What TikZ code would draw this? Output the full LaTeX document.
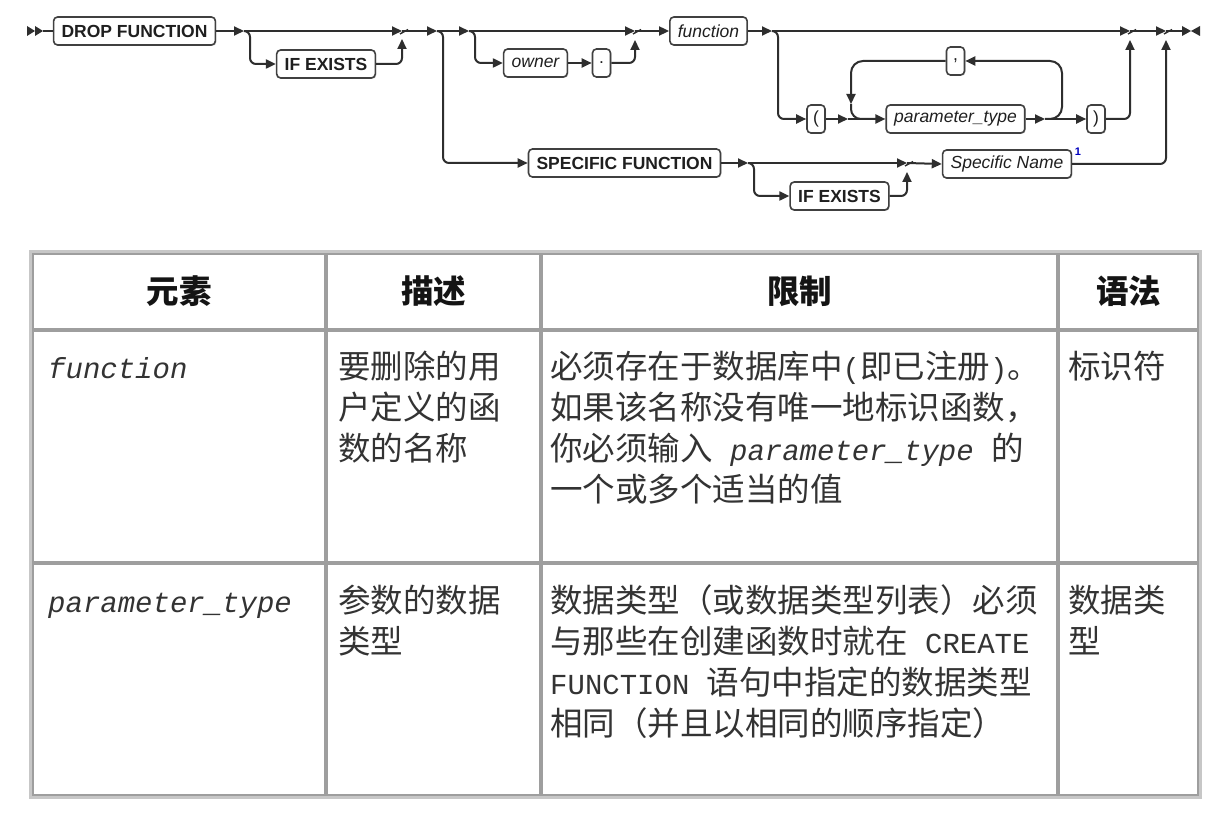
\documentclass[tikz,border=0pt]{standalone}
\usepackage{fontspec}
\setmainfont{Liberation Sans}
\newfontfamily\cjkfont{Noto Sans CJK SC}
\newfontfamily\monofont{Liberation Mono}
\usetikzlibrary{arrows.meta,shadows,calc}
\newcommand\bodyfont{\cjkfont\fontsize{32.5}{40}\selectfont}
\newcommand\headfont{\cjkfont\bfseries\fontsize{32.5}{40}\selectfont}
\newcommand\monoI{\monofont\itshape\fontsize{29}{40}\selectfont}
\newcommand\monoR{\monofont\fontsize{29}{40}\selectfont}
\newcommand\mergetick[1]{\draw[rr,line width=1.4pt] ($(#1)+(-2,3)$) -- ($(#1)+(6,-1.5)$);}
\tikzset{
  rr/.style={draw=black!82, line width=2pt},
  tipr/.style={-{Triangle[length=10pt,width=9pt]}},
  box/.style={draw=black!75, line width=1.6pt, rounded corners=4pt, fill=white, minimum height=28pt, inner xsep=8pt, inner ysep=0pt, text=black!88, drop shadow={shadow xshift=1pt, shadow yshift=-1pt, opacity=0.3}},
  kw/.style={box, font=\bfseries\fontsize{17.5}{20}\selectfont},
  var/.style={box, font=\itshape\fontsize{17.5}{20}\selectfont},
  sym/.style={box, font=\fontsize{17.5}{20}\selectfont, minimum width=18pt, inner xsep=2pt},
  cell/.style={draw=black!38, line width=1.6pt},
  txt/.style={anchor=base west, inner sep=0pt, text=black!80, font=\bodyfont},
  hd/.style={anchor=base, inner sep=0pt, text=black!92, font=\headfont},
}
\begin{document}
\begin{tikzpicture}[x=1pt,y=-1pt]
\useasboundingbox (0,0) rectangle (1226,818);
\fill[white] (0,0) rectangle (1226,818);

% ---------------- syntax diagram ----------------
\node[kw] (drop) at (134.5,31) {DROP FUNCTION};
\fill[black!82] (27,26) -- (35,31) -- (27,36) -- cycle;
\fill[black!82] (35,26) -- (43,31) -- (35,36) -- cycle;
\coordinate (st) at (43,31);
\draw[rr] (st) -- (drop.west);

\coordinate (j1) at (244,31);
\draw[rr,tipr] (drop.east) -- (j1);
\coordinate (m1) at (402,31); \coordinate (m1u) at (402,39);
\draw[rr,tipr] (j1) -- (m1);
\node[kw] (ife1) at (326,64) {IF EXISTS};
\draw[rr,tipr,rounded corners=6pt] (j1) -- ++(6,0) |- (ife1.west);
\draw[rr,tipr,rounded corners=6pt] (ife1.east) -| (m1u);
\mergetick{m1}

\coordinate (j2) at (437,31);
\draw[rr,tipr] (m1) -- (j2);
\node[kw] (spec) at (624.5,163) {SPECIFIC FUNCTION};
\draw[rr,tipr,rounded corners=6pt] (j2) -- ++(6,0) |- (spec.west);
\coordinate (j3) at (469,31);
\draw[rr,tipr] (j2) -- (j3);
\node[var] (own) at (535.5,63) {owner};
\draw[rr,tipr,rounded corners=6pt] (j3) -- ++(6,0) |- (own.west);
\node[sym] (dot) at (601.5,63) {.};
\draw[rr,tipr] (own.east) -- (dot.west);
\coordinate (m2) at (635,31); \coordinate (m2u) at (635,40);
\draw[rr,tipr,rounded corners=6pt] (dot.east) -| (m2u);
\draw[rr,tipr] (j3) -- (m2);
\mergetick{m2}

\node[var] (fn) at (708.5,31) {function};
\draw[rr,tipr] (m2) -- (fn.west);
\coordinate (j4) at (772,31);
\draw[rr,tipr] (fn.east) -- (j4);
\coordinate (m3) at (1130,31); \coordinate (m3u) at (1130,40);
\draw[rr,tipr] (j4) -- (m3);
\node[sym] (lp) at (816,119) {(};
\draw[rr,tipr,rounded corners=6pt] (j4) -- ++(6,0) |- (lp.west);
\coordinate (j5) at (848,119);
\draw[rr,tipr] (lp.east) -- (j5);
\node[var] (pt) at (955.5,119) {parameter\_type};
\draw[rr,tipr] (j5) -- (pt.west);
\coordinate (j6) at (1045,119);
\draw[rr,tipr] (pt.east) -- (j6);
\node[sym] (rp) at (1096,119) {)};
\draw[rr,tipr] (j6) -- (rp.west);
\node[sym] (cm) at (955.5,61) {,};
\coordinate (lpr) at (1062,61);
\draw[rr,tipr,rounded corners=12pt] (j6) -| (lpr) -- (cm.east);
\coordinate (lpd) at (851,104);
\coordinate (lpj) at (876,119);
\draw[rr,tipr,rounded corners=12pt] (cm.west) -| (lpd);
\draw[rr,rounded corners=10pt] (lpd) |- (lpj);
\draw[rr,tipr,rounded corners=6pt] (rp.east) -| (m3u);
\mergetick{m3}

\coordinate (m4) at (1166,31); \coordinate (m4u) at (1166,40);
\draw[rr,tipr] (m3) -- (m4);
\mergetick{m4}
\coordinate (en) at (1182,31);
\draw[rr] (m4) -- (en);
\fill[black!82] (1182,26) -- (1191,31) -- (1182,36) -- cycle;
\fill[black!82] (1200,26) -- (1191,31) -- (1200,36) -- cycle;

\coordinate (j8) at (748,163);
\draw[rr,tipr] (spec.east) -- (j8);
\coordinate (m5) at (907,163); \coordinate (m5u) at (907,172);
\draw[rr,tipr] (j8) -- (m5);
\node[kw] (ife2) at (839.5,196) {IF EXISTS};
\draw[rr,tipr,rounded corners=6pt] (j8) -- ++(6,0) |- (ife2.west);
\draw[rr,tipr,rounded corners=6pt] (ife2.east) -| (m5u);
\mergetick{m5}
\node[var] (sn) at (1007,164) {Specific Name};
\draw[rr,tipr] (m5) -- (sn.west);
\node[text=blue!75!black, font=\bfseries\fontsize{11}{12}\selectfont, inner sep=0pt] (fn1) at (1078,152) {1};
\draw[rr,tipr,rounded corners=6pt] (sn.east) -| (m4u);

% ---------------- table ----------------
\draw[black!22, line width=3pt] (30.5,251.5) rectangle (1200.5,797.5);
\foreach \xa/\xb in {32/326,326/541,541/1058,1058/1199}
  \foreach \ya/\yb in {253/330,330/563,563/796}
    \draw[cell] (\xa+1,\ya+1) rectangle (\xb-1,\yb-1);

\node[hd] (h1) at (179,304) {元素};
\node[hd] (h2) at (433.5,304) {描述};
\node[hd] (h3) at (799.5,304) {限制};
\node[hd] (h4) at (1128.5,304) {语法};

\node[txt] (r1c1) at (48,378) {\monoI function};
\node[txt] (r1c2a) at (338,378) {要删除的用};
\node[txt] (r1c2b) at (338,419) {户定义的函};
\node[txt] (r1c2c) at (338,460) {数的名称};
\node[txt] (r1c3a) at (550,378) {必须存在于数据库中{\monoR(}即已注册{\monoR)}。};
\node[txt] (r1c3b) at (550,419) {如果该名称没有唯一地标识函数，};
\node[txt] (r1c3c) at (550,460) {你必须输入{\monoI\ parameter\_type\ }的};
\node[txt] (r1c3d) at (550,501) {一个或多个适当的值};
\node[txt] (r1c4) at (1068,378) {标识符};

\node[txt] (r2c1) at (48,612) {\monoI parameter\_type};
\node[txt] (r2c2a) at (338,612) {参数的数据};
\node[txt] (r2c2b) at (338,653) {类型};
\node[txt] (r2c3a) at (550,612) {数据类型（或数据类型列表）必须};
\node[txt] (r2c3b) at (550,653) {与那些在创建函数时就在{\monoR\ CREATE}};
\node[txt] (r2c3c) at (550,694) {{\monoR FUNCTION\ }语句中指定的数据类型};
\node[txt] (r2c3d) at (550,735) {相同（并且以相同的顺序指定）};
\node[txt] (r2c4a) at (1068,612) {数据类};
\node[txt] (r2c4b) at (1068,653) {型};
\end{tikzpicture}
\end{document}
